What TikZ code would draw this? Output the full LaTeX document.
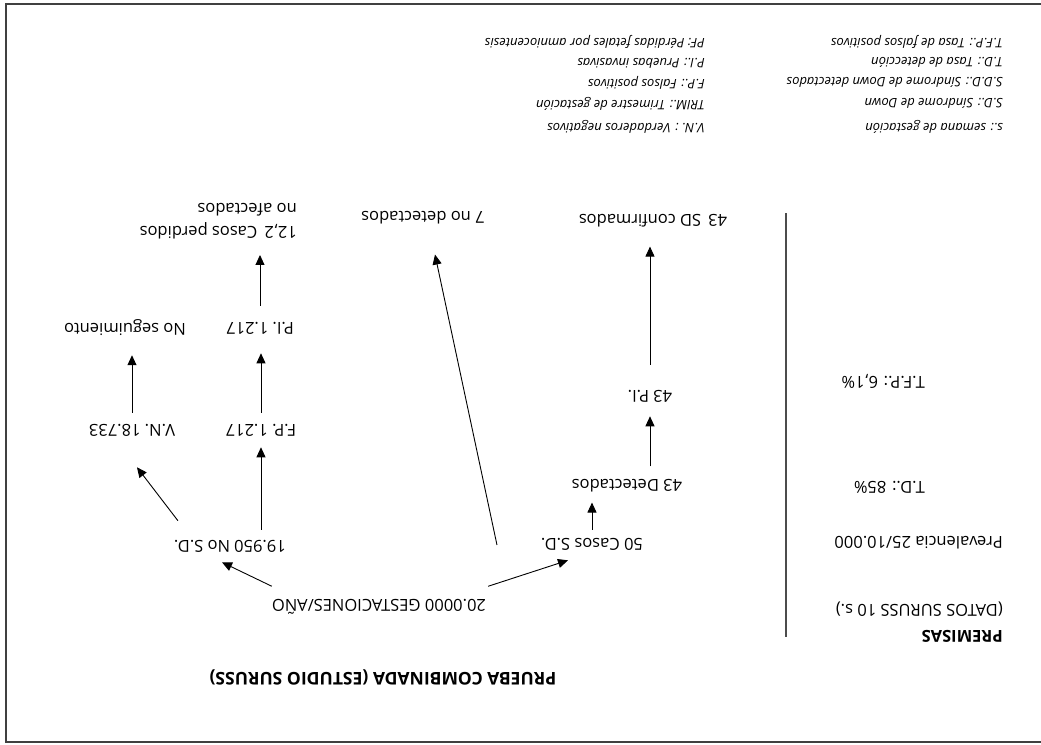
\documentclass[tikz,border=0pt]{standalone}
\usepackage{fontspec}
\setmainfont{Open Sans}
\usetikzlibrary{arrows.meta,calc}

\tikzset{
  lbl/.style={inner sep=3pt, font=\fontsize{16.5}{19}\selectfont},
  leyenda/.style={anchor=west, inner sep=0pt, font=\fontsize{13}{15}\selectfont\itshape},
  flecha/.style={-{Triangle[length=10pt,width=9pt]}, line width=0.9pt},
}

\begin{document}
\begin{tikzpicture}[x=1pt,y=-1pt,rotate=180,transform shape]
  \useasboundingbox (0,0) rectangle (1041,744);
  % marco
  \draw [black!75, line width=1.5pt] (-10,2) -- (1035,2) -- (1035,740) -- (-10,740);
  % premisas
  \node [lbl, anchor=west, inner sep=0pt, font=\fontsize{16.5}{19}\selectfont\bfseries] (prem) at (38,108) {PREMISAS};
  \node [lbl, anchor=west, inner sep=0pt] (datos) at (38,135) {(DATOS SURUSS 10 s.)};
  \node [lbl, anchor=west, inner sep=0pt] (preval) at (38,201) {Prevalencia 25/10.000};
  \node [lbl, anchor=west, inner sep=0pt] (td) at (116,257) {T.D.: 85\%};
  \node [lbl, anchor=west, inner sep=0pt] (tfp) at (116,363) {T.F.P.: 6,1\%};
  \draw [black!70, line width=1.2pt] (255,107) -- (255,531);
  % arbol
  \node [lbl, font=\fontsize{17.5}{20}\selectfont\bfseries] (titulo) at (658,67) {PRUEBA COMBINADA (ESTUDIO SURUSS)};
  \node [lbl] (gest) at (662,137) {20.0000 GESTACIONES/AÑO};
  \node [lbl] (casos) at (449,200) {50 Casos S.D.};
  \node [lbl] (nosd) at (811,198) {19.950 No S.D.};
  \node [lbl] (det) at (414,258) {43 Detectados};
  \node [lbl] (pi43) at (391,348) {43 P.I.};
  \node [lbl] (conf) at (388,523) {43\, SD confirmados};
  \node [lbl] (nodet) at (618,526) {7 no detectados};
  \node [lbl] (vn) at (909,314) {V.N. 18.733};
  \node [lbl] (fp) at (780,314) {F.P. 1.217};
  \node [lbl] (noseg) at (916,416) {No seguimiento};
  \node [lbl] (pi) at (781,416) {P.I. 1.217};
  \coordinate (perdtop) at (0,505);
  \node [lbl, anchor=north west, inner sep=0pt, align=left, font=\fontsize{16.5}{23}\selectfont] (perd) at (pi.west |- perdtop) {12,2\, Casos perdidos\\no afectados};
  \coordinate (diag) at (544,199);

  \draw [flecha] ($(gest.south east)+(-3,10)$) -- ($(nosd.north)+(8,-7)$);
  \draw [flecha] ($(gest.south west)+(1,10)$) -- ($(casos.north)+(24,-7)$);
  \draw [flecha] (diag) -- ($(nodet.north)+(-12,-27)$);
  \draw [flecha, shorten <=5pt, shorten >=7pt] (casos.south) -- (casos.south |- det.north);
  \draw [flecha, shorten <=10pt, shorten >=11pt] (det.south -| pi43) -- (pi43.north);
  \draw [flecha, shorten <=22pt, shorten >=16pt] (pi43.south) -- (pi43.south |- conf.north);
  \draw [flecha] ($(nosd.south east)+(-7,16)$) -- ($(vn.north)+(-5,-28)$);
  \draw [flecha, shorten <=7pt, shorten >=8pt] (nosd.south -| fp) -- (fp.north);
  \draw [flecha, shorten <=8pt, shorten >=16pt] (vn.south) -- (vn.south |- noseg.north);
  \draw [flecha, shorten <=8pt, shorten >=16pt] (fp.south) -- (fp.south |- pi.north);
  \draw [flecha, shorten <=13pt, shorten >=16pt] (pi.south) -- (pi.south |- perd.north);
  % leyenda
  \node [leyenda] (l1) at (38,617) {s.: semana de gestación};
  \node [leyenda] (l2) at (38,641) {S.D.: Síndrome de Down};
  \node [leyenda] (l3) at (38,662) {S.D.D.: Síndrome de Down detectados};
  \node [leyenda] (l4) at (38,682) {T.D.: Tasa de detección};
  \node [leyenda] (l5) at (38,702) {T.F.P.: Tasa de falsos positivos};
  \node [leyenda] (l6) at (336,617) {V.N. : Verdaderos negativos};
  \node [leyenda] (l7) at (336,640) {TRIM.: Trimestre de gestación};
  \node [leyenda] (l8) at (336,661) {F.P.: Falsos positivos};
  \node [leyenda] (l9) at (336,681) {P.I.: Pruebas invasivas};
  \node [leyenda] (l10) at (336,702) {PF: Pérdidas fetales por amniocentesis};
\end{tikzpicture}
\end{document}
